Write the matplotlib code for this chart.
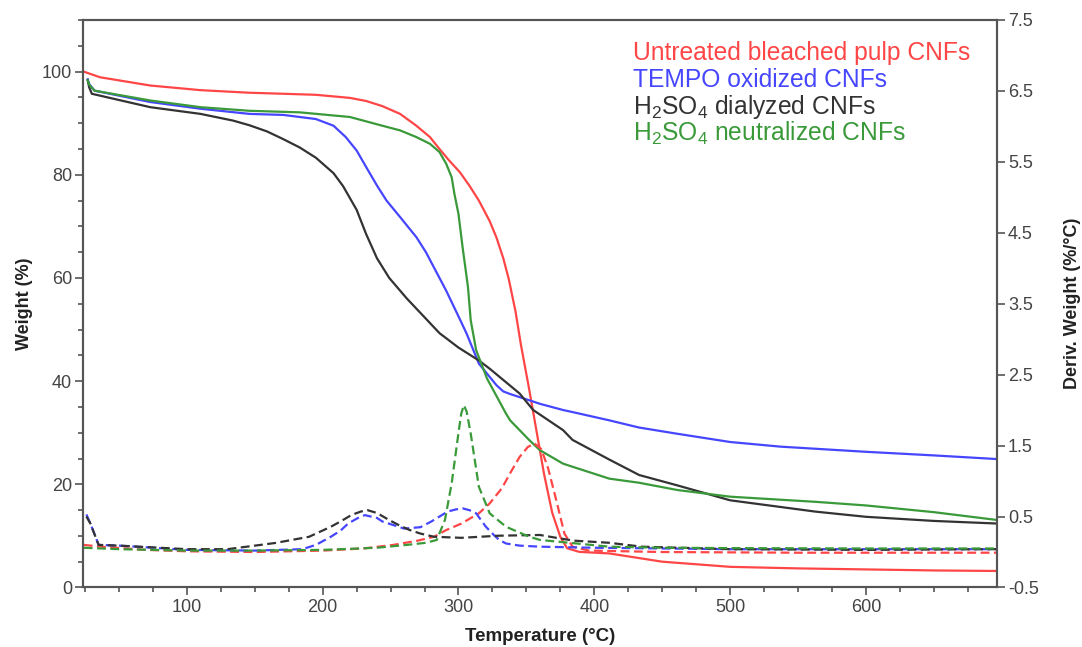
import numpy as np
import matplotlib
matplotlib.use("Agg")
import matplotlib.pyplot as plt
from matplotlib.ticker import MultipleLocator

plt.rcParams['font.family'] = ['Liberation Sans', 'DejaVu Sans']
plt.rcParams['mathtext.fontset'] = 'custom'
plt.rcParams['mathtext.rm'] = 'Liberation Sans'
plt.rcParams['axes.unicode_minus'] = False

# weight curves (%)
T_untreated = [24, 36, 73, 110, 146, 171, 195, 220, 232, 244, 257, 269, 279, 286, 293, 301, 308, 315, 323,
               328, 333, 337, 342, 346, 352, 358, 363, 369, 375, 380, 389, 411, 450, 500, 550, 600, 650, 696]
W_untreated = [100, 98.9, 97.3, 96.4, 95.9, 95.7, 95.5, 94.9, 94.3, 93.3, 91.8, 89.5, 87.3, 85.0, 82.8, 80.5,
               77.9, 75.0, 71.0, 67.8, 63.8, 59.8, 53.5, 47.0, 38.5, 29.5, 22.0, 14.5, 9.8, 7.6, 6.9, 6.6,
               5.0, 4.0, 3.7, 3.5, 3.3, 3.2]

T_tempo = [27, 28, 32, 73, 110, 146, 171, 195, 208, 217, 225, 232, 240, 247, 257, 269, 276, 284, 291, 301,
           306, 315, 323, 328, 333, 338, 345, 360, 377, 384, 411, 433, 461, 500, 537, 600, 650, 696]
W_tempo = [98.5, 97.6, 96.3, 94.1, 92.8, 91.8, 91.6, 90.8, 89.5, 87.3, 84.7, 81.5, 77.9, 75.0, 71.8, 67.9,
           65.0, 61.0, 57.5, 52.0, 49.2, 43.4, 40.8, 39.2, 38.0, 37.5, 36.9, 35.6, 34.4, 34.0, 32.4, 31.0,
           29.8, 28.2, 27.3, 26.3, 25.6, 24.9]

T_dialyzed = [27, 28, 30, 73, 110, 134, 146, 159, 171, 183, 195, 208, 215, 225, 232, 240, 249, 262, 276, 286,
              300, 315, 323, 345, 355, 377, 384, 411, 433, 461, 500, 563, 600, 650, 696]
W_dialyzed = [98.3, 97.0, 95.7, 93.1, 91.8, 90.5, 89.6, 88.4, 86.9, 85.3, 83.3, 80.3, 77.8, 73.2, 68.5,
              63.8, 60.0, 56.0, 52.1, 49.3, 46.5, 44.0, 42.4, 37.6, 34.4, 30.5, 28.6, 24.8, 21.8, 19.8,
              16.9, 14.7, 13.7, 12.9, 12.4]

T_neutral = [27, 28, 32, 73, 110, 146, 183, 220, 244, 257, 269, 279, 286, 291, 295, 297, 300, 303, 307,
             309, 313, 321, 335, 338, 352, 360, 377, 384, 411, 433, 461, 500, 563, 600, 650, 696]
W_neutral = [98.3, 97.5, 96.3, 94.4, 93.1, 92.4, 92.1, 91.2, 89.5, 88.6, 87.3, 86.0, 84.4, 82.1, 79.5,
             76.3, 72.4, 66.0, 58.2, 51.8, 46.0, 40.5, 33.7, 32.4, 28.6, 26.6, 24.0, 23.4, 21.1, 20.3,
             18.9, 17.6, 16.6, 15.9, 14.6, 13.1]

# derivative curves (%/°C)
Td_untreated = [24, 40, 70, 100, 150, 200, 230, 252, 270, 282, 291, 302, 315, 323, 332, 338, 345, 351,
                356, 361, 366, 372, 378, 384, 396, 450, 550, 696]
D_untreated = [0.10, 0.07, 0.03, 0.01, 0.0, 0.02, 0.05, 0.10, 0.16, 0.215, 0.31, 0.40, 0.545, 0.686, 0.90,
               1.11, 1.34, 1.48, 1.53, 1.45, 1.18, 0.73, 0.26, 0.075, 0.02, 0.0, -0.01, -0.01]

Td_tempo = [26, 29, 32, 35, 50, 100, 150, 185, 195, 206, 213, 219, 226, 231, 240, 244, 252, 260, 272,
            280, 292, 298, 303, 308, 313, 320, 326, 330, 335, 345, 360, 400, 500, 600, 696]
D_tempo = [0.53, 0.40, 0.25, 0.10, 0.09, 0.03, 0.02, 0.04, 0.10, 0.215, 0.30, 0.405, 0.48, 0.52, 0.48, 0.43,
           0.38, 0.33, 0.35, 0.43, 0.57, 0.60, 0.615, 0.59, 0.545, 0.36, 0.24, 0.17, 0.12, 0.09, 0.075,
           0.06, 0.04, 0.04, 0.04]

Td_dialyzed = [26, 29, 32, 35, 50, 100, 130, 165, 190, 206, 214, 221, 228, 233, 240, 249, 256, 264, 272,
               282, 302, 330, 360, 372, 385, 411, 435, 500, 600, 696]
D_dialyzed = [0.50, 0.40, 0.25, 0.10, 0.09, 0.04, 0.04, 0.127, 0.215, 0.356, 0.44, 0.52, 0.57, 0.59, 0.55,
              0.45, 0.38, 0.31, 0.26, 0.215, 0.20, 0.23, 0.24, 0.20, 0.16, 0.13, 0.075, 0.04, 0.03, 0.04]

Td_neutral = [24, 50, 100, 150, 200, 240, 262, 276, 284, 290, 295, 300, 302, 304, 306, 309, 315, 323, 335,
              352, 360, 384, 411, 450, 500, 600, 696]
D_neutral = [0.06, 0.04, 0.02, 0.02, 0.03, 0.06, 0.10, 0.13, 0.17, 0.45, 0.97, 1.68, 1.95, 2.07, 1.98, 1.67,
             0.92, 0.545, 0.356, 0.216, 0.17, 0.126, 0.075, 0.06, 0.055, 0.05, 0.05]

labels = ['Untreated bleached pulp CNFs', 'TEMPO oxidized CNFs',
          r'H$_2$SO$_4$ dialyzed CNFs', r'H$_2$SO$_4$ neutralized CNFs']
colors = ['#ff4646', '#4646ff', '#333333', '#3a9a3a']

fig = plt.figure(figsize=(10.82, 6.47), dpi=100)
ax = fig.add_axes([0.0767, 0.0920, 0.8447, 0.8771])
ax2 = ax.twinx()

weights = [(T_untreated, W_untreated), (T_tempo, W_tempo), (T_dialyzed, W_dialyzed), (T_neutral, W_neutral)]
derivs = [(Td_untreated, D_untreated), (Td_tempo, D_tempo), (Td_dialyzed, D_dialyzed), (Td_neutral, D_neutral)]

for (t, w), c in zip(weights, colors):
    ax.plot(t, w, color=c, lw=1.6)
for (t, d), c in zip(derivs, colors):
    ax2.plot(t, d, color=c, lw=1.6, dashes=(4, 2))

ax.set_xlim(23.5, 696.5)
ax.set_ylim(0, 110)
ax2.set_ylim(-0.5, 7.5)
ax.set_xticks([100, 200, 300, 400, 500, 600])
ax.xaxis.set_minor_locator(MultipleLocator(25))
ax.set_yticks([0, 20, 40, 60, 80, 100])
ax.yaxis.set_minor_locator(MultipleLocator(5))
ax2.set_yticks(np.arange(-0.5, 7.6, 1.0))
ax2.set_yticklabels([f'{v:.1f}' for v in np.arange(-0.5, 7.6, 1.0)])

for a in (ax, ax2):
    for s in a.spines.values():
        s.set_color('#555555')
        s.set_linewidth(1.5)
    a.tick_params(which='major', length=6, width=1.2, color='#555555', labelsize=13,
                  labelcolor='#444444', pad=2)
    a.tick_params(which='minor', length=3.5, width=1.2, color='#555555')

ax.set_xlabel('Temperature (°C)', fontsize=13.5, fontweight='bold', color='#222222', labelpad=9)
ax.set_ylabel('Weight (%)', fontsize=13, fontweight='bold', color='#222222', labelpad=6)
ax2.set_ylabel('Deriv. Weight (%/°C)', fontsize=13, fontweight='bold', color='#222222', labelpad=18)

ys = [0.942, 0.894, 0.847, 0.800]
for lab, c, y in zip(labels, colors, ys):
    ax.text(0.602, y, lab, color=c, fontsize=17.7, transform=ax.transAxes, va='center', ha='left')

fig.savefig('out.png', dpi=100)
